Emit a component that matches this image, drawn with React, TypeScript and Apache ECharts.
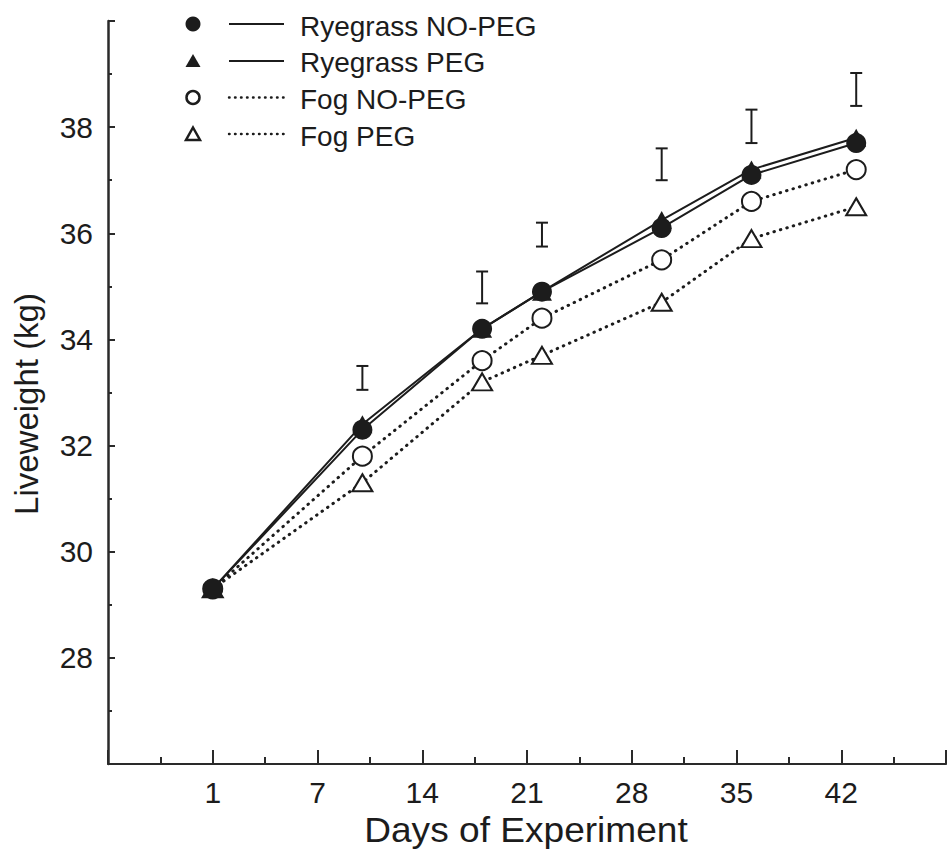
import React, { useEffect, useRef } from "react";
import * as echarts from "echarts";

// Axis position 0 is day 1 of the experiment; ticks every 7 days.
const xTickValues = [0, 7, 14, 21, 28, 35, 42];
const xTickLabels = ["1", "7", "14", "21", "28", "35", "42"];
const yTickLabels = [28, 30, 32, 34, 36, 38];

const sampleDays = [0, 10, 18, 22, 30, 36, 43];
const ryegrassNoPeg = [29.3, 32.3, 34.2, 34.9, 36.1, 37.1, 37.7];
const ryegrassPeg = [29.3, 32.4, 34.2, 34.9, 36.25, 37.2, 37.8];
const fogNoPeg = [29.3, 31.8, 33.6, 34.4, 35.5, 36.6, 37.2];
const fogPeg = [29.3, 31.3, 33.2, 33.7, 34.7, 35.9, 36.5];

// Standard error bars drawn above each sampling day
const errDays = [10, 18, 22, 30, 36, 43];
const errLow = [33.05, 34.68, 35.75, 37.0, 37.7, 38.4];
const errHigh = [33.5, 35.28, 36.2, 37.6, 38.33, 39.02];

const FONT = "'Liberation Sans', Arial, Helvetica, sans-serif";
const INK = "#1c1c1c";

const pairs = (ys: number[]) => sampleDays.map((d, i) => [d, ys[i]]);

export default function App() {
  const ref = useRef<HTMLDivElement>(null);

  useEffect(() => {
    if (!ref.current) return;
    const chart = echarts.init(ref.current, undefined, { renderer: "svg" });

    const dotted = { width: 3, type: [0.5, 6.2] as number[], cap: "round" as const, color: INK };

    const legendRows = [
      { y: 24, label: "Ryegrass NO-PEG", dotted: false, ty: 26 },
      { y: 61, label: "Ryegrass PEG", dotted: false, ty: 62.5 },
      { y: 97.5, label: "Fog NO-PEG", dotted: true, ty: 99 },
      { y: 134, label: "Fog PEG", dotted: true, ty: 136 },
    ];

    const legendGraphics: any[] = [];
    legendRows.forEach((r, i) => {
      const sx = 193;
      if (i === 0) {
        legendGraphics.push({ type: "circle", shape: { cx: sx, cy: r.y, r: 7.5 }, style: { fill: INK } });
      } else if (i === 1) {
        legendGraphics.push({
          type: "polygon",
          shape: { points: [[sx, r.y - 7], [sx + 7.5, r.y + 6], [sx - 7.5, r.y + 6]] },
          style: { fill: INK },
        });
      } else if (i === 2) {
        legendGraphics.push({
          type: "circle",
          shape: { cx: sx, cy: r.y, r: 6.5 },
          style: { fill: "#fff", stroke: INK, lineWidth: 2.5 },
        });
      } else {
        legendGraphics.push({
          type: "polygon",
          shape: { points: [[sx, r.y - 6.5], [sx + 7, r.y + 6], [sx - 7, r.y + 6]] },
          style: { fill: "#fff", stroke: INK, lineWidth: 2.5, lineJoin: "miter" },
        });
      }
      legendGraphics.push({
        type: "line",
        shape: { x1: 229, y1: r.y, x2: 284, y2: r.y },
        style: r.dotted
          ? { stroke: INK, lineWidth: 2.4, lineDash: [0.6, 5.4], lineCap: "round" }
          : { stroke: INK, lineWidth: 2.2 },
      });
      legendGraphics.push({
        type: "text",
        x: 300,
        y: r.ty,
        style: {
          text: r.label,
          font: `28px ${FONT}`,
          fill: INK,
          textAlign: "left",
          textVerticalAlign: "middle",
        },
      });
    });

    const option: any = {
      animation: false,
      backgroundColor: "#ffffff",
      grid: { left: 108, right: 0, top: 21, bottom: 91, containLabel: false },
      xAxis: {
        type: "value",
        min: -7,
        max: 49,
        interval: 7,
        axisLine: { onZero: false, lineStyle: { color: "#2a2a2a", width: 2.2 } },
        axisTick: { inside: true, length: 14, lineStyle: { color: "#2a2a2a", width: 2 } },
        minorTick: { show: true, splitNumber: 2, length: 7, lineStyle: { color: "#2a2a2a", width: 2 } },
        splitLine: { show: false },
        axisLabel: {
          margin: 13,
          fontSize: 30,
          fontFamily: FONT,
          color: INK,
          formatter: (v: number) => {
            const i = xTickValues.indexOf(v);
            return i >= 0 ? xTickLabels[i] : "";
          },
        },
      },
      yAxis: {
        type: "value",
        min: 26,
        max: 40,
        interval: 2,
        axisLine: { onZero: false, lineStyle: { color: "#2a2a2a", width: 2.5 } },
        axisTick: { inside: true, length: 7, lineStyle: { color: "#2a2a2a", width: 2 } },
        minorTick: { show: true, splitNumber: 2, length: 4, lineStyle: { color: "#2a2a2a", width: 2 } },
        splitLine: { show: false },
        axisLabel: {
          margin: 15,
          fontSize: 30,
          fontFamily: FONT,
          color: INK,
          formatter: (v: number) => (yTickLabels.indexOf(v) >= 0 ? String(v) : ""),
        },
      },
      series: [
        {
          name: "Fog PEG",
          type: "line",
          data: pairs(fogPeg),
          symbol: "triangle",
          symbolSize: [20, 17],
          lineStyle: dotted,
          itemStyle: { color: "#fff", borderColor: INK, borderWidth: 2 },
          z: 2,
        },
        {
          name: "Fog NO-PEG",
          type: "line",
          data: pairs(fogNoPeg),
          symbol: "circle",
          symbolSize: 19,
          lineStyle: dotted,
          itemStyle: { color: "#fff", borderColor: INK, borderWidth: 2 },
          z: 3,
        },
        {
          name: "Ryegrass PEG",
          type: "line",
          data: pairs(ryegrassPeg),
          symbol: "triangle",
          symbolSize: [20, 18],
          lineStyle: { color: INK, width: 2 },
          itemStyle: { color: INK },
          z: 4,
        },
        {
          name: "Ryegrass NO-PEG",
          type: "line",
          data: pairs(ryegrassNoPeg),
          symbol: "circle",
          symbolSize: 20,
          lineStyle: { color: INK, width: 2 },
          itemStyle: { color: INK },
          z: 5,
        },
        {
          name: "SE",
          type: "custom",
          data: errDays.map((d, i) => [d, errLow[i], errHigh[i]]),
          z: 6,
          renderItem: (_params: any, api: any) => {
            const x = api.value(0);
            const lo = api.coord([x, api.value(1)]);
            const hi = api.coord([x, api.value(2)]);
            const half = 6;
            const st = { stroke: INK, lineWidth: 2 };
            return {
              type: "group",
              children: [
                { type: "line", shape: { x1: lo[0], y1: lo[1], x2: hi[0], y2: hi[1] }, style: st },
                { type: "line", shape: { x1: lo[0] - half, y1: lo[1], x2: lo[0] + half, y2: lo[1] }, style: st },
                { type: "line", shape: { x1: hi[0] - half, y1: hi[1], x2: hi[0] + half, y2: hi[1] }, style: st },
              ],
            };
          },
        },
      ],
      graphic: [
        ...legendGraphics,
        {
          type: "text",
          x: 526,
          y: 830,
          scaleX: 1.06,
          style: {
            text: "Days of Experiment",
            font: `35px ${FONT}`,
            fill: INK,
            textAlign: "center",
            textVerticalAlign: "middle",
          },
        },
        {
          type: "text",
          x: 26,
          y: 404,
          rotation: Math.PI / 2,
          style: {
            text: "Liveweight (kg)",
            font: `33px ${FONT}`,
            fill: INK,
            textAlign: "center",
            textVerticalAlign: "middle",
          },
        },
      ],
    };

    chart.setOption(option);
    return () => chart.dispose();
  }, []);

  return (
    <div
      ref={ref}
      style={{ position: "fixed", left: 0, top: 0, width: 949, height: 855, background: "#fff" }}
    />
  );
}
